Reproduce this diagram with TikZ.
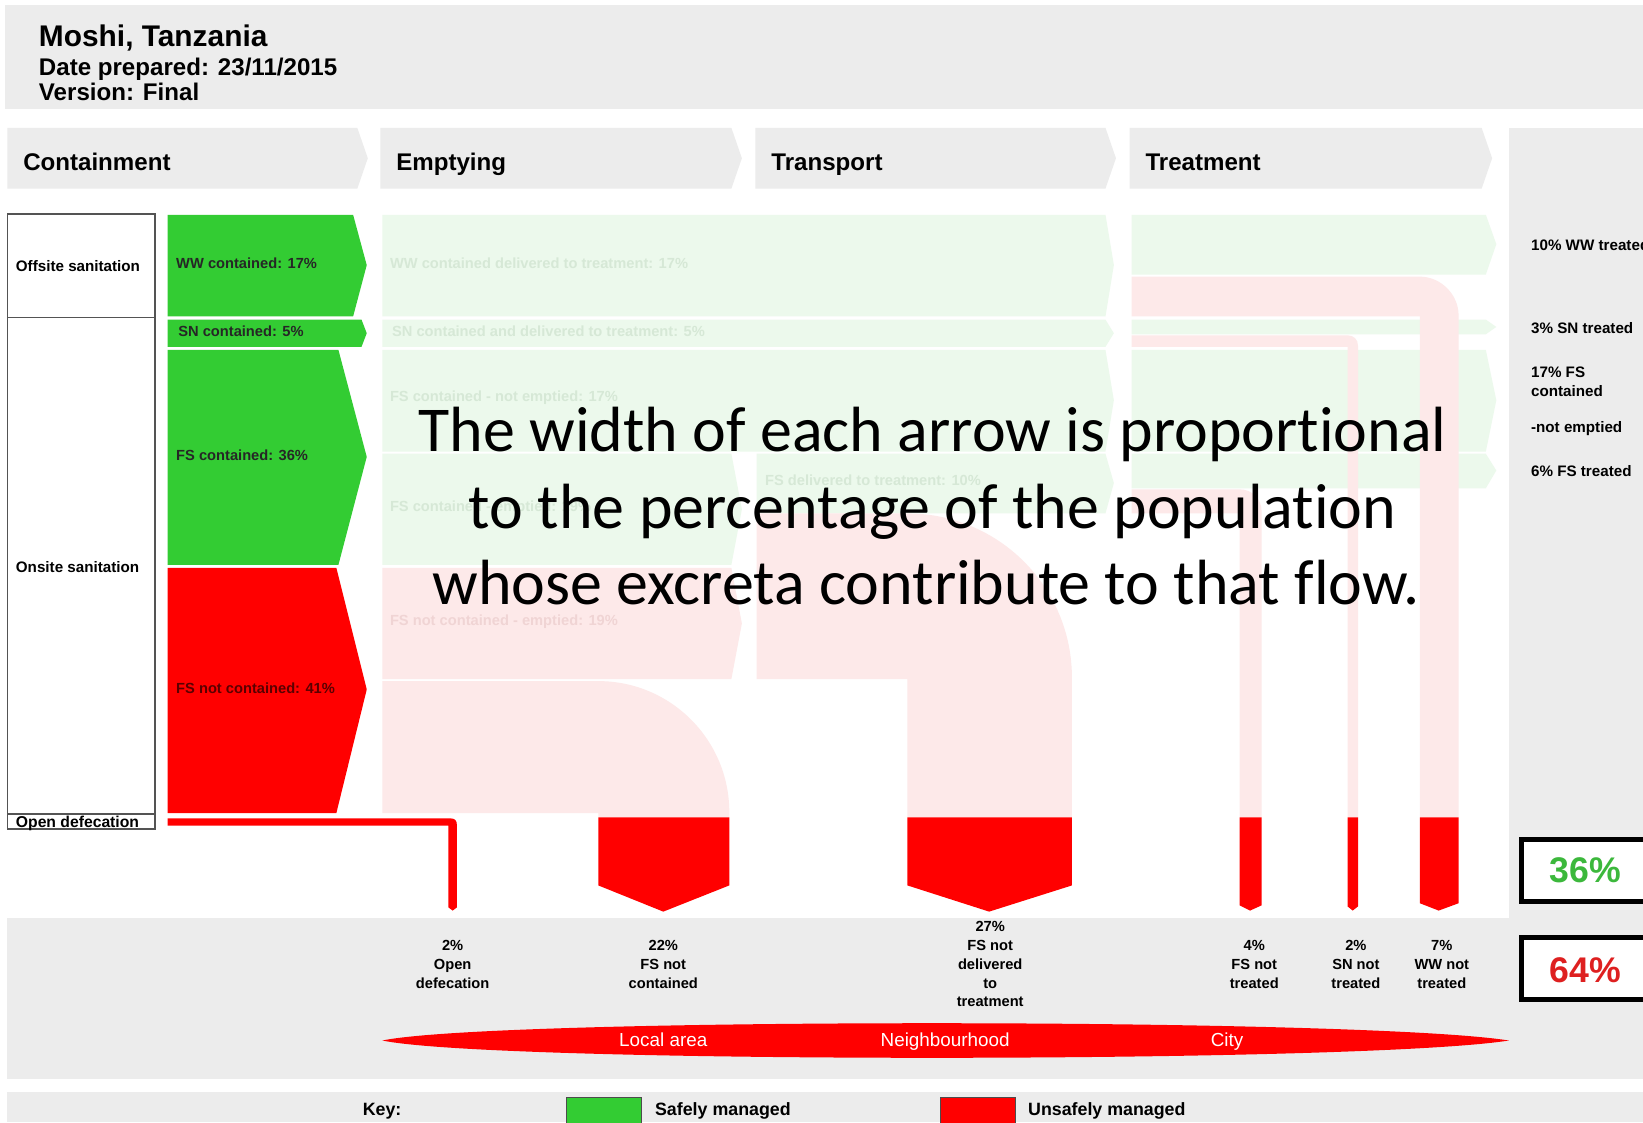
\documentclass[tikz,border=0pt]{standalone}
\usepackage{fontspec}
\setmainfont{Liberation Sans}
\newfontfamily\slidefont[Ligatures={NoCommon}]{Carlito}
\usepackage{tikz}
\usetikzlibrary{positioning}
\definecolor{bandGray}{RGB}{236,236,236}
\definecolor{safeGreen}{RGB}{51,204,51}
\definecolor{unsafeRed}{RGB}{255,0,0}
\definecolor{paleGreen}{RGB}{236,249,236}
\definecolor{paleRed}{RGB}{253,233,233}
\definecolor{fadeGreen}{RGB}{214,232,214}
\definecolor{fadeRed}{RGB}{240,212,212}
\definecolor{boxGray}{gray}{0.33}
\definecolor{darkRedText}{RGB}{90,0,0}
\definecolor{pctGreen}{RGB}{60,184,60}
\definecolor{pctRed}{RGB}{222,32,32}
\newcommand{\fsz}[1]{\fontsize{#1}{#1}\selectfont}

\begin{document}
\begin{tikzpicture}[x=1pt, y=-1pt,
    hdr/.style={font=\fsz{23}\bfseries, inner sep=0pt, anchor=base west},
    lbl/.style={font=\fsz{14}\bfseries, inner sep=0pt, anchor=base west},
    faintG/.style={lbl, text=fadeGreen},
    faintR/.style={lbl, text=fadeRed},
    sidebox/.style={draw=boxGray, line width=1.5pt},
    outlbl/.style={font=\fontsize{14}{18}\selectfont\bfseries, align=center, inner sep=0pt, anchor=north},
    zone/.style={font=\fsz{18}, text=white, inner sep=0pt, anchor=base},
    pctbox/.style={draw=black, fill=white, line width=5pt},
    slide/.style={font=\slidefont\fsz{61}, inner sep=0pt, anchor=base}]

    \useasboundingbox (0,0) rectangle (1568,1071);
    \clip (0,0) rectangle (1568,1071);
    \fill[white] (0,0) rectangle (1568,1071);

    % Header band
    \fill[bandGray] (5,5) rectangle (1568,104);
    \node[font=\fsz{28.5}\bfseries, inner sep=0pt, anchor=base west] (title) at (37,44) {Moshi, Tanzania};
    \node[font=\fsz{23}\bfseries, inner sep=0pt, anchor=base west] (datePrep) at (37,72) {Date prepared: 23/11/2015};
    \node[font=\fsz{23}\bfseries, inner sep=0pt, anchor=base west] (version) at (37,96) {Version: Final};

    % Stage chevrons
    \foreach \xa/\xb/\name/\txt in {7/341/hdrContain/Containment, 363/698/hdrEmpty/Emptying,
                                    721/1055/hdrTrans/Transport, 1078/1414/hdrTreat/Treatment} {
        \fill[bandGray] (\xa,122) -- (\xb,122) -- (\xb+10,151) -- (\xb,180) -- (\xa,180) -- cycle;
        \node[hdr] (\name) at (\xa+15,163) {\txt};
    }

    % Grey panels (right column, bottom, key)
    \fill[bandGray] (1440,122) rectangle (1568,1030);
    \fill[bandGray] (7,876) rectangle (1568,1030);
    \fill[bandGray] (7,1042) rectangle (1568,1071);

    % Pale green flows
    \fill[paleGreen] (365,205) -- (1055,205) -- (1063,253) -- (1055,302) -- (365,302) -- cycle;
    \fill[paleGreen] (365,305) -- (1055,305) -- (1063,318) -- (1055,331) -- (365,331) -- cycle;
    \fill[paleGreen] (365,334) -- (1055,334) -- (1063,382) -- (1055,431) -- (365,431) -- cycle;
    \fill[paleGreen] (365,433) -- (698,433) -- (708,486) -- (698,539) -- (365,539) -- cycle;
    \fill[paleGreen] (722,433) -- (1055,433) -- (1063,461) -- (1055,490) -- (722,490) -- cycle;
    \fill[paleGreen] (1080,205) -- (1418,205) -- (1428,233) -- (1418,262) -- (1080,262) -- cycle;
    \fill[paleGreen] (1080,305) -- (1418,305) -- (1428,312) -- (1418,319) -- (1080,319) -- cycle;
    \fill[paleGreen] (1080,334) -- (1418,334) -- (1428,382) -- (1418,431) -- (1080,431) -- cycle;
    \fill[paleGreen] (1080,433) -- (1418,433) -- (1428,449) -- (1418,466) -- (1080,466) -- cycle;

    % Pale red flows
    \fill[paleRed] (365,542) -- (698,542) -- (708,595) -- (698,648) -- (365,648) -- cycle;
    \fill[paleRed] (365,650) -- (571,650) .. controls (640,650) and (696,706) .. (696,775)
        -- (696,780) -- (571,780) -- (571,776) -- (365,776) -- cycle;
    \fill[paleRed] (722,490) -- (866,490) .. controls (953,490) and (1023,560) .. (1023,647)
        -- (1023,780) -- (866,780) -- (866,648) -- (722,648) -- cycle;
    \fill[paleRed] (1080,467) -- (1183,467) .. controls (1195,467) and (1204,476) .. (1204,488)
        -- (1204,780) -- (1183,780) -- (1183,490) -- (1080,490) -- cycle;
    \fill[paleRed] (1080,320) -- (1286,320) .. controls (1292,320) and (1296,324) .. (1296,330)
        -- (1296,780) -- (1286,780) -- (1286,331) -- (1080,331) -- cycle;
    \fill[paleRed] (1080,264) -- (1355,264) .. controls (1375,264) and (1392,281) .. (1392,301)
        -- (1392,780) -- (1355,780) -- (1355,302) -- (1080,302) -- cycle;

    % Faint flow labels
    \node[faintG] (wwDeliv) at (372,256) {WW contained delivered to treatment: 17\%};
    \node[faintG] (snDeliv) at (374,321) {SN contained and delivered to treatment: 5\%};
    \node[faintG] (fsNotEmp) at (372,383) {FS contained - not emptied: 17\%};
    \node[faintG] (fsEmp) at (372,488) {FS contained - emptied: 19\%};
    \node[faintG] (fsDeliv) at (730,463) {FS delivered to treatment: 10\%};
    \node[faintR] (fsncEmp) at (372,597) {FS not contained - emptied: 19\%};

    % Containment arrows
    \fill[safeGreen] (160,205) -- (337,205) -- (350,253) -- (337,302) -- (160,302) -- cycle;
    \fill[safeGreen] (160,305) -- (345,305) -- (350,318) -- (345,331) -- (160,331) -- cycle;
    \fill[safeGreen] (160,334) -- (323,334) -- (350,436) -- (323,539) -- (160,539) -- cycle;
    \fill[unsafeRed] (160,542) -- (321,542) -- (350,658) -- (321,776) -- (160,776) -- cycle;
    \node[lbl, text=black!85] (wwCont) at (168,256) {WW contained: 17\%};
    \node[lbl, text=black!85] (snCont) at (170,321) {SN contained: 5\%};
    \node[lbl, text=black!85] (fsCont) at (168,439) {FS contained: 36\%};
    \node[lbl, text=darkRedText] (fsNotCont) at (168,662) {FS not contained: 41\%};

    % Sanitation type boxes
    \draw[sidebox] (7,204) rectangle (148,303);
    \draw[sidebox] (7,303) rectangle (148,777);
    \draw[sidebox] (7,777) rectangle (148,791);
    \node[lbl, font=\fsz{14.5}\bfseries] (offsite) at (15,259) {Offsite sanitation};
    \node[lbl, font=\fsz{14.5}\bfseries] (onsite) at (15,546) {Onsite sanitation};
    \node[lbl, font=\fsz{15}\bfseries] (openDef) at (15,790) {Open defecation};

    % Unsafe outflows
    \fill[unsafeRed] (160,781) -- (430,781) .. controls (434,781) and (436,783) .. (436,787)
        -- (436,866) -- (432,869) -- (428,866) -- (428,788) -- (160,788) -- cycle;
    \fill[unsafeRed] (571,780) -- (696,780) -- (696,845) -- (633,870) -- (571,845) -- cycle;
    \fill[unsafeRed] (866,780) -- (1023,780) -- (1023,845) -- (944,870) -- (866,845) -- cycle;
    \fill[unsafeRed] (1183,780) -- (1204,780) -- (1204,864) -- (1193,869) -- (1183,864) -- cycle;
    \fill[unsafeRed] (1286,780) -- (1296,780) -- (1296,865) -- (1291,869) -- (1286,865) -- cycle;
    \fill[unsafeRed] (1355,780) -- (1392,780) -- (1392,862) -- (1373,869) -- (1355,862) -- cycle;

    % Outflow labels
    \node[outlbl] (outOD) at (432,897) {2\%\\Open\\defecation};
    \node[outlbl] (outFSNC) at (633,897) {22\%\\FS not\\contained};
    \node[outlbl] (outFSND) at (945,879) {27\%\\FS not\\delivered\\to\\treatment};
    \node[outlbl] (outFSNT) at (1197,897) {4\%\\FS not\\treated};
    \node[outlbl] (outSNNT) at (1294,897) {2\%\\SN not\\treated};
    \node[outlbl] (outWWNT) at (1376,897) {7\%\\WW not\\treated};

    % Area spindle
    \fill[unsafeRed] (365,993) .. controls (470,971) and (1300,971) .. (1440,993)
        .. controls (1300,1015) and (470,1015) .. (365,993) -- cycle;
    \node[zone] (local) at (633,999) {Local area};
    \node[zone] (neigh) at (902,999) {Neighbourhood};
    \node[zone] (city) at (1171,999) {City};

    % Treated outcomes
    \node[lbl, font=\fsz{14.5}\bfseries] (wwTreat) at (1461,239) {10\% WW treated};
    \node[lbl, font=\fsz{14.5}\bfseries] (snTreat) at (1461,318) {3\% SN treated};
    \node[lbl, font=\fontsize{14.5}{18}\selectfont\bfseries, align=left] (fsKept) at (1461,378) {17\% FS\\contained};
    \node[lbl, font=\fsz{14.5}\bfseries] (fsKept2) at (1461,413) {-not emptied};
    \node[lbl, font=\fsz{14.5}\bfseries] (fsTreat) at (1461,455) {6\% FS treated};

    % Totals
    \draw[pctbox] (1452,801) rectangle (1590,860);
    \node[font=\fsz{34}\bfseries, text=pctGreen, inner sep=0pt] (pctSafe) at (1513,831) {36\%};
    \draw[pctbox] (1452,895) rectangle (1590,954);
    \node[font=\fsz{34}\bfseries, text=pctRed, inner sep=0pt] (pctUnsafe) at (1513,926) {64\%};

    % Key
    \node[lbl, font=\fsz{17}\bfseries] (keyTitle) at (346,1065) {Key:};
    \draw[fill=safeGreen, draw=black!70, line width=1pt] (541,1047) rectangle (612,1076);
    \node[lbl, font=\fsz{17}\bfseries] (keySafe) at (625,1065) {Safely managed};
    \draw[fill=unsafeRed, draw=black!70, line width=1pt] (898,1047) rectangle (969,1076);
    \node[lbl, font=\fsz{17}\bfseries] (keyUnsafe) at (981,1065) {Unsafely managed};

    % Overlay note
    \node[slide] (note1) at (890,431) {The width of each arrow is proportional};
    \node[slide] (note2) at (890,504) {to the percentage of the population};
    \node[slide] (note3) at (884,577) {whose excreta contribute to that flow.};
\end{tikzpicture}
\end{document}
